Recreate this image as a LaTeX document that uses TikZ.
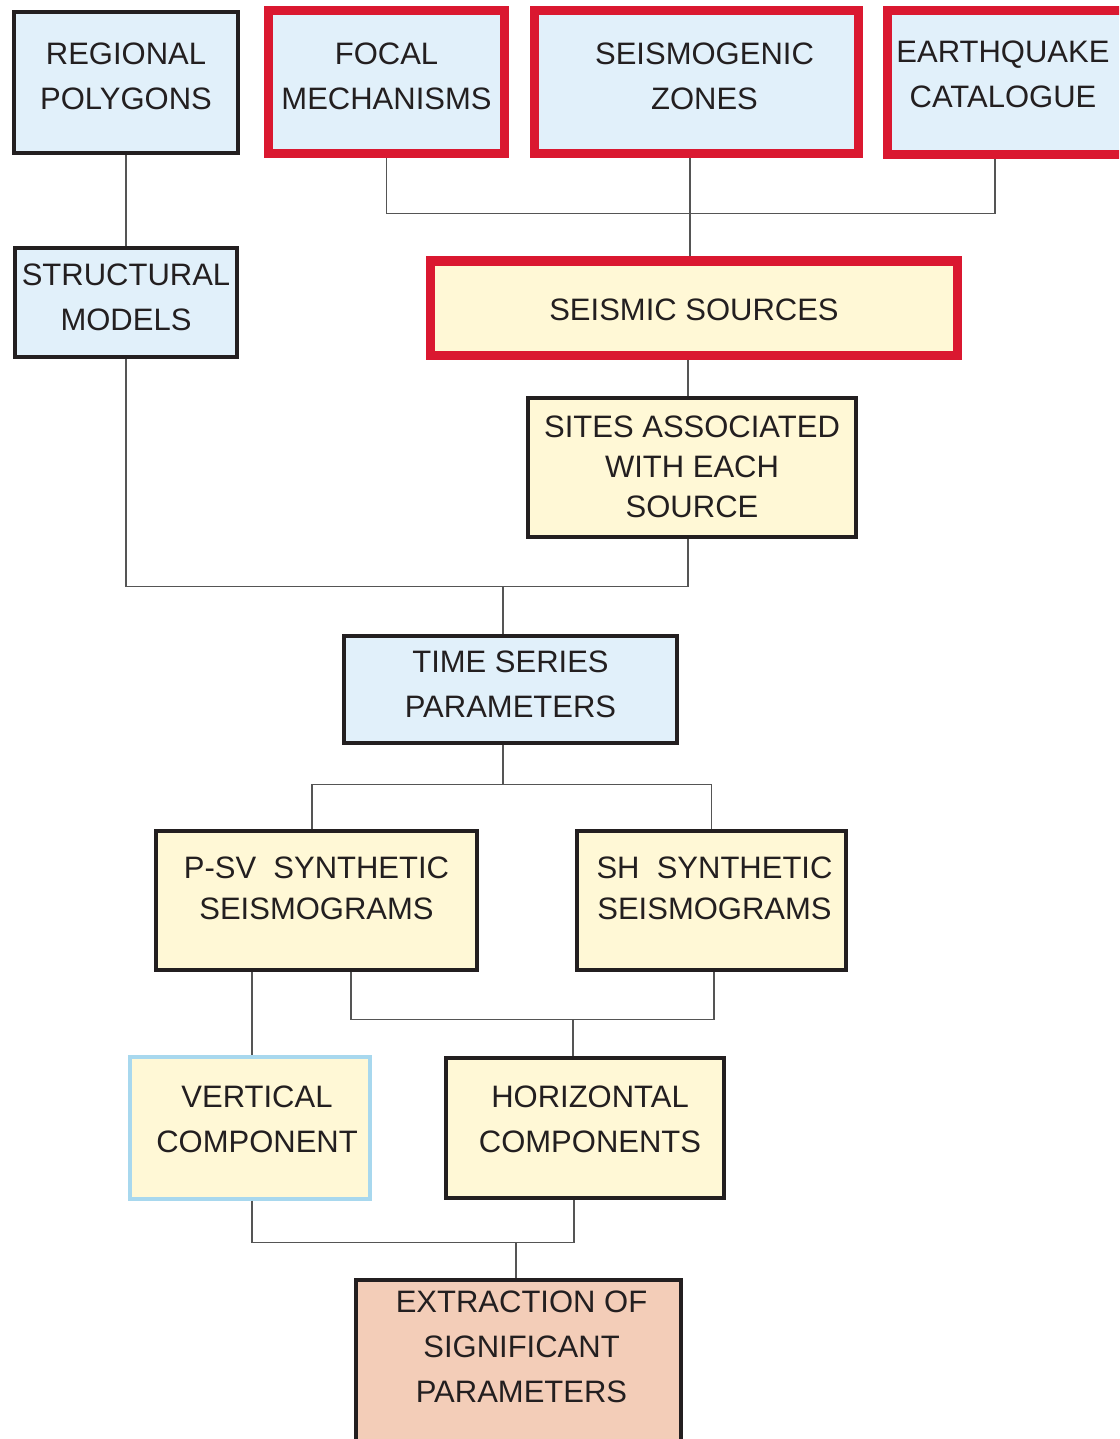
\documentclass[tikz,border=0pt]{standalone}
\usepackage{fontspec}
\setmainfont{Liberation Sans}
\usetikzlibrary{positioning}
\definecolor{inkblack}{RGB}{35,31,32}
\definecolor{keyred}{RGB}{218,24,48}
\definecolor{paleblue}{RGB}{225,240,250}
\definecolor{paleyellow}{RGB}{255,248,214}
\definecolor{salmon}{RGB}{243,205,184}
\definecolor{skyline}{RGB}{168,216,238}
\definecolor{wire}{RGB}{85,85,85}
% pad every line of a box text on one side, to push it off centre
\newcommand{\lpad}[1]{\hspace*{#1}}

\begin{document}
\begin{tikzpicture}[node distance=100pt,on grid,
    box/.style={draw=inkblack,line width=2pt,align=center,text=inkblack,
      font=\fontsize{15.5}{22.5}\selectfont,inner sep=0pt},
    datain/.style={box,fill=paleblue},
    result/.style={box,fill=paleyellow},
    key/.style={draw=keyred,line width=4.5pt},
    link/.style={draw=wire,line width=0.7pt}]
  \useasboundingbox (0,0) rectangle (559.5pt,-719.5pt);
  \clip (0,0) rectangle (559.5pt,-719.5pt);

  % input data
  \node[datain,minimum width=112pt,minimum height=70.5pt,text depth=6.5pt] (regional) at (63pt,-41.25pt) {REGIONAL\\POLYGONS};
  \node[datain,key,minimum width=118pt,minimum height=71.5pt,text depth=6.5pt] (focal) [right=130.25pt of regional] {FOCAL\\MECHANISMS};
  \node[datain,key,minimum width=162pt,minimum height=71.5pt,text depth=6.5pt] (seismo) [right=155pt of focal] {\lpad{8pt}SEISMOGENIC\\\lpad{8pt}ZONES};
  \node[datain,key,minimum width=119.5pt,minimum height=72pt,text depth=8.5pt] (quake) [right=155.25pt of seismo] {EARTHQUAKE\lpad{4pt}\\CATALOGUE\lpad{4pt}};
  \node[datain,minimum width=111pt,minimum height=54.5pt,text depth=5pt] (structural) [below=110pt of regional] {STRUCTURAL\\MODELS};

  % sources and sites
  \node[result,key,minimum width=263.5pt,minimum height=47pt,text height=13pt] (sources) [below=112.75pt of seismo,xshift=-1.25pt] {SEISMIC SOURCES};
  \node[result,minimum width=164pt,minimum height=69.5pt,font=\fontsize{15.5}{20}\selectfont] (sites) [below=79.5pt of sources,xshift=-1pt] {SITES ASSOCIATED\\WITH EACH\\SOURCE};
  \node[datain,minimum width=166.5pt,minimum height=53.5pt,text depth=5pt] (tseries) [below left=111pt and 90.75pt of sites] {TIME SERIES\\PARAMETERS};

  % synthetics
  \node[result,minimum width=160.5pt,minimum height=69.5pt,text depth=12pt,font=\fontsize{15.5}{20.5}\selectfont] (psv) [below left=105.5pt and 97pt of tseries] {P-SV\ \ SYNTHETIC\\SEISMOGRAMS};
  \node[result,minimum width=134.5pt,minimum height=69.5pt,text depth=12pt,font=\fontsize{15.5}{20.5}\selectfont] (sh) [right=197.5pt of psv] {\lpad{3pt}SH\ \ SYNTHETIC\\\lpad{3pt}SEISMOGRAMS};
  \node[result,draw=skyline,minimum width=120pt,minimum height=71pt,text depth=8pt] (vert) [below left=113.75pt and 33.25pt of psv] {\lpad{7pt}VERTICAL\\\lpad{7pt}COMPONENT};
  \node[result,minimum width=139pt,minimum height=70pt,text depth=8pt] (horiz) [right=167.5pt of vert] {\lpad{5pt}HORIZONTAL\\\lpad{5pt}COMPONENTS};
  \node[box,fill=salmon,minimum width=162.5pt,minimum height=90.5pt,text depth=23.5pt] (extract) [below left=121.25pt and 33.25pt of horiz] {\lpad{3pt}EXTRACTION OF\\\lpad{3pt}SIGNIFICANT\\\lpad{3pt}PARAMETERS};

  % junctions
  \coordinate (j2) at ([xshift=-3.75pt,yshift=23.5pt]tseries.north);
  \coordinate (j4) at ([xshift=-6pt,yshift=18pt]horiz.north);
  \coordinate (j5) at ([xshift=-1.25pt,yshift=17.5pt]extract.north);

  % links
  \draw[link] (focal.south) -- ++(0,-27.5pt) -| ([xshift=-6pt]quake.south);
  \draw[link] ([xshift=-3.25pt]seismo.south) -- ([xshift=-3.25pt]seismo.south |- sources.north);
  \draw[link] (regional) -- (structural);
  \draw[link] ([xshift=-3pt]sources.south) -- ([xshift=-3pt]sources.south |- sites.north);
  \draw[link] (structural.south) |- (j2) -| ([xshift=-2pt]sites.south);
  \draw[link] (j2) -- (j2 |- tseries.north);
  \draw[link] ([xshift=-3.75pt]tseries.south) -- ++(0,-20pt) coordinate (j3);
  \draw[link] ([xshift=-2.25pt]psv.north) |- (j3) -| (sh.north);
  \draw[link] ([xshift=1pt]vert.north) -- ([xshift=1pt]vert.north |- psv.south);
  \draw[link] ([xshift=17.25pt]psv.south) |- (j4) -| ([xshift=1.25pt]sh.south);
  \draw[link] (j4) -- (j4 |- horiz.north);
  \draw[link] ([xshift=1pt]vert.south) |- (j5) -| ([xshift=-5.5pt]horiz.south);
  \draw[link] (j5) -- (j5 |- extract.north);
\end{tikzpicture}
\end{document}
